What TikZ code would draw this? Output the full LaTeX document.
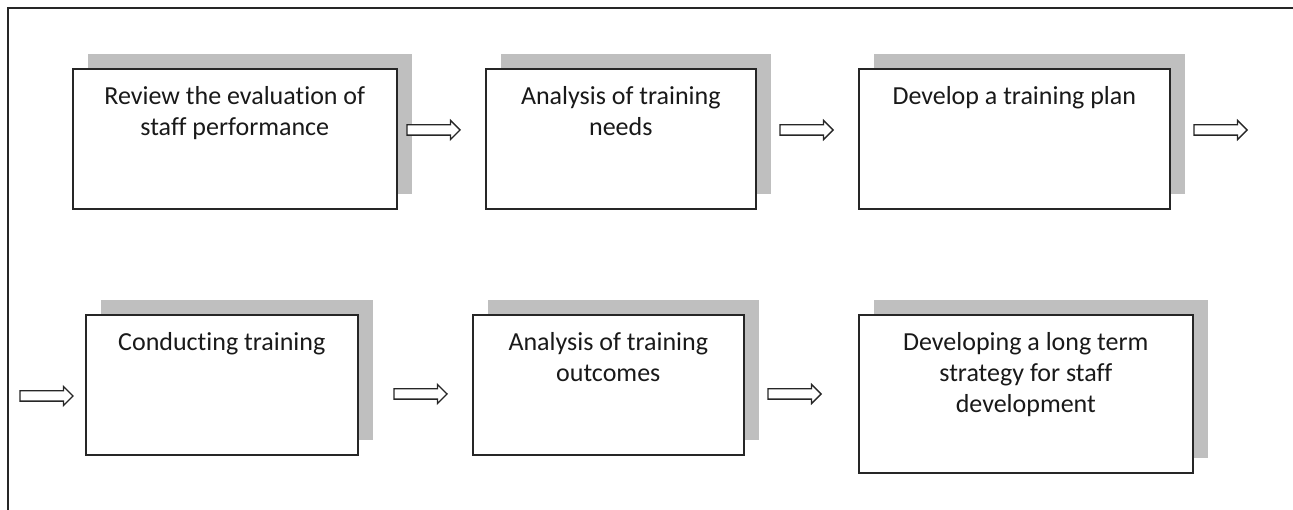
\documentclass[tikz,border=0pt]{standalone}
\usepackage{fontspec}
\setmainfont{Carlito}[Ligatures=NoCommon]
\usetikzlibrary{shapes.arrows,shadows}

\newcommand\stagetext[3]{\parbox[c][#2][t]{#1}{\centering\rule{0pt}{36pt}#3}}

\begin{document}
\begin{tikzpicture}[x=1pt, y=-1pt,
    stage/.style={draw=black!85, line width=1.6pt, fill=white, inner sep=0pt, anchor=north west,
      font=\fontsize{26}{31}\selectfont, text=black!90,
      drop shadow={shadow xshift=15pt, shadow yshift=15pt, fill=black!25, opacity=1}},
    flow/.style={single arrow, draw=black!85, line width=1.3pt, fill=white,
      inner xsep=0pt, inner ysep=4.5pt, minimum height=53pt,
      single arrow head extend=4.5pt, single arrow head indent=0pt}]
  \useasboundingbox (0,0) rectangle (1293,510);
  % frame
  \draw[black!85, line width=1.6pt] (8,510) -- (8,8) -- (1293,8);

  % first row
  \node[stage] (review) at (72,68) {\stagetext{324pt}{140pt}{Review the evaluation of\\staff performance}};
  \node[stage] (needs) at (485,68) {\stagetext{270pt}{140pt}{Analysis of training\\needs}};
  \node[stage] (plan) at (858,68) {\stagetext{311pt}{140pt}{Develop a training plan}};

  % second row
  \node[stage] (conduct) at (85,314) {\stagetext{272pt}{140pt}{Conducting training}};
  \node[stage] (outcomes) at (472,314) {\stagetext{271pt}{140pt}{Analysis of training\\outcomes}};
  \node[stage] (strategy) at (858,314) {\stagetext{334pt}{158pt}{Developing a long term\\strategy for staff\\development}};

  % block arrows
  \node[flow] (toneeds) at (431,130) {};
  \node[flow] (toplan) at (804,130) {};
  \node[flow] (fromplan) at (1218,130) {};
  \node[flow] (toconduct) at (44,396) {};
  \node[flow] (tooutcomes) at (418,394) {};
  \node[flow] (tostrategy) at (792,394) {};
\end{tikzpicture}
\end{document}
